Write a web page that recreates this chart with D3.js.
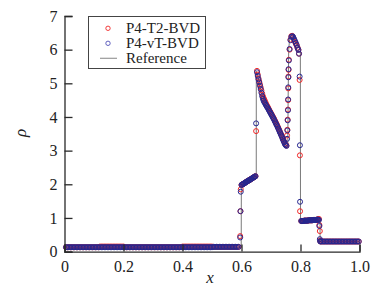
<!DOCTYPE html>
<html><head><meta charset="utf-8">
<script src="https://cdn.jsdelivr.net/npm/d3@7"></script>
<style>
html,body{margin:0;padding:0;background:#fff;}
svg{display:block;}
svg text{font-family:"Liberation Serif","Times New Roman",serif !important;fill:#222;}
</style></head>
<body>
<svg id="chart" width="384" height="291"></svg>
<script>
// ---- data ----
const xTicks = [0, 0.2, 0.4, 0.6, 0.8, 1.0];
const xTickLabels = ["0", "0.2", "0.4", "0.6", "0.8", "1.0"];
const yTicks = [0, 1, 2, 3, 4, 5, 6, 7];
const seriesNames = ["P4-T2-BVD", "P4-vT-BVD", "Reference"];

// reference solution
const refX =   [0, 0.599, 0.5995, 0.650, 0.6502, 0.655, 0.6675, 0.675, 0.68, 0.69, 0.70, 0.71, 0.72, 0.73, 0.74, 0.745, 0.75, 0.755, 0.757, 0.758, 0.760, 0.763, 0.768, 0.773, 0.78, 0.79, 0.7995, 0.800, 0.86, 0.866, 0.8665, 1.0];
const refRho = [0.13, 0.13, 1.98, 2.24, 5.36, 5.22, 4.72, 4.48, 4.40, 4.25, 4.09, 3.93, 3.75, 3.55, 3.34, 3.24, 3.16, 3.13, 3.20, 4.50, 6.00, 6.30, 6.42, 6.42, 6.28, 6.10, 6.00, 0.92, 0.96, 0.97, 0.30, 0.30];

// sample locations shared by both numerical solutions
const xs = [
0.005,0.01,0.015,0.02,0.025,0.03,0.035,0.04,0.045,0.05,0.055,0.06,0.065,0.07,0.075,0.08,0.085,0.09,0.095,0.1,
0.105,0.11,0.115,0.12,0.125,0.13,0.135,0.14,0.145,0.15,0.155,0.16,0.165,0.17,0.175,0.18,0.185,0.19,0.195,0.2,
0.205,0.21,0.215,0.22,0.225,0.23,0.235,0.24,0.245,0.25,0.255,0.26,0.265,0.27,0.275,0.28,0.285,0.29,0.295,0.3,
0.305,0.31,0.315,0.32,0.325,0.33,0.335,0.34,0.345,0.35,0.355,0.36,0.365,0.37,0.375,0.38,0.385,0.39,0.395,0.4,
0.405,0.41,0.415,0.42,0.425,0.43,0.435,0.44,0.445,0.45,0.455,0.46,0.465,0.47,0.475,0.48,0.485,0.49,0.495,0.5,
0.505,0.51,0.515,0.52,0.525,0.53,0.535,0.54,0.545,0.55,0.555,0.56,0.565,0.57,0.575,0.58,0.585,0.59,
0.5955,0.5965,0.5975,
0.6,0.6025,0.605,0.6075,0.61,0.6125,0.615,0.6175,0.62,0.6225,0.625,0.6275,0.63,0.6325,0.635,0.6375,0.64,0.6425,0.645,0.6475,
0.6495,
0.6525,0.655,0.6575,0.66,0.6625,0.665,0.6675,0.67,0.6725,0.675,0.6775,0.68,0.6825,0.685,0.6875,0.69,0.6925,0.695,0.6975,0.7,
0.7025,0.705,0.7075,0.71,0.7125,0.715,0.7175,0.72,0.7225,0.725,0.7275,0.73,0.7325,0.735,0.7375,0.74,0.7425,0.745,0.7475,0.75,0.7525,
0.7545,0.7555,0.7565,0.7575,0.758,0.7585,0.759,0.7595,0.7605,0.763,0.766,0.769,0.772,0.775,0.778,0.781,0.784,0.787,0.790,0.793,0.795,0.797,0.798,0.7985,
0.8025,0.805,0.8075,0.81,0.8125,0.815,0.8175,0.82,0.8225,0.825,0.8275,0.83,0.8325,0.835,0.8375,0.84,0.8425,0.845,0.8475,0.85,0.8525,0.855,0.8575,0.86,0.8625,
0.864,0.8655,0.867,
0.8675,0.8725,0.8775,0.8825,0.8875,0.8925,0.8975,0.9025,0.9075,0.9125,0.9175,0.9225,0.9275,0.9325,0.9375,0.9425,0.9475,0.9525,0.9575,0.9625,0.9675,0.9725,0.9775,0.9825,0.9875,0.9925,0.9975
];

const rhoT2 = [
0.13,0.13,0.13,0.13,0.13,0.13,0.13,0.13,0.13,0.13,0.13,0.13,0.13,0.13,0.13,0.13,0.13,0.13,0.13,0.13,
0.13,0.13,0.13,0.15,0.15,0.15,0.15,0.15,0.15,0.15,0.15,0.15,0.15,0.15,0.15,0.15,0.15,0.15,0.15,0.15,
0.13,0.13,0.13,0.13,0.13,0.13,0.13,0.13,0.13,0.13,0.13,0.13,0.13,0.13,0.13,0.13,0.13,0.13,0.13,0.13,
0.13,0.13,0.13,0.13,0.13,0.13,0.13,0.13,0.13,0.13,0.13,0.13,0.13,0.13,0.13,0.13,0.13,0.13,0.13,0.15,
0.15,0.15,0.15,0.15,0.15,0.15,0.15,0.15,0.15,0.15,0.15,0.15,0.15,0.15,0.15,0.15,0.15,0.15,0.15,0.15,
0.14,0.14,0.14,0.14,0.14,0.14,0.14,0.14,0.14,0.14,0.14,0.14,0.14,0.14,0.14,0.14,0.14,0.14,
0.46,1.20,1.85,
1.98,1.99,2.01,2.02,2.03,2.05,2.06,2.08,2.09,2.10,2.12,2.13,2.14,2.16,2.17,2.19,2.20,2.21,2.23,2.24,
3.58,
5.37,5.26,5.15,5.06,4.97,4.88,4.79,4.70,4.62,4.56,4.51,4.46,4.41,4.36,4.32,4.28,4.23,4.19,4.15,4.11,
4.07,4.03,3.99,3.95,3.90,3.86,3.81,3.77,3.72,3.67,3.62,3.57,3.52,3.47,3.42,3.36,3.31,3.26,3.21,3.17,3.15,
3.45,3.62,3.92,4.22,4.50,4.85,5.20,5.40,5.70,6.00,6.30,6.40,6.41,6.36,6.30,6.24,6.18,6.12,6.06,6.00,5.88,5.10,2.86,1.20,
0.91,0.91,0.91,0.91,0.92,0.92,0.92,0.92,0.92,0.92,0.93,0.93,0.93,0.93,0.93,0.93,0.94,0.94,0.94,0.94,0.94,0.95,0.95,0.96,0.97,
0.79,0.61,0.33,
0.30,0.30,0.30,0.30,0.30,0.30,0.30,0.30,0.30,0.30,0.30,0.30,0.30,0.30,0.30,0.30,0.30,0.30,0.30,0.30,0.30,0.30,0.30,0.30,0.30,0.30,0.30
];

const rhoVT = [
0.13,0.13,0.13,0.13,0.13,0.13,0.13,0.13,0.13,0.13,0.13,0.13,0.13,0.13,0.13,0.13,0.13,0.13,0.13,0.13,
0.13,0.13,0.13,0.13,0.13,0.13,0.13,0.13,0.13,0.13,0.13,0.13,0.13,0.13,0.13,0.13,0.13,0.13,0.13,0.13,
0.13,0.13,0.13,0.13,0.13,0.13,0.13,0.13,0.13,0.13,0.13,0.13,0.13,0.13,0.13,0.13,0.13,0.13,0.13,0.13,
0.13,0.13,0.13,0.13,0.13,0.13,0.13,0.13,0.13,0.13,0.13,0.13,0.13,0.13,0.13,0.13,0.13,0.13,0.13,0.13,
0.13,0.13,0.13,0.13,0.13,0.13,0.13,0.13,0.13,0.13,0.13,0.13,0.13,0.13,0.13,0.13,0.13,0.13,0.13,0.13,
0.14,0.14,0.14,0.14,0.14,0.14,0.14,0.14,0.14,0.14,0.14,0.14,0.14,0.14,0.14,0.14,0.14,0.14,
0.42,1.20,1.78,
1.98,1.99,2.01,2.02,2.03,2.05,2.06,2.08,2.09,2.10,2.12,2.13,2.14,2.16,2.17,2.19,2.20,2.21,2.23,2.24,
3.81,
5.33,5.22,5.12,5.03,4.93,4.83,4.72,4.62,4.54,4.48,4.44,4.40,4.36,4.32,4.29,4.25,4.21,4.17,4.13,4.09,
4.05,4.01,3.97,3.93,3.88,3.84,3.79,3.75,3.70,3.65,3.60,3.55,3.50,3.45,3.40,3.34,3.29,3.24,3.19,3.16,3.14,
3.35,3.60,3.90,4.20,4.52,4.88,5.18,5.42,5.68,6.02,6.28,6.38,6.40,6.38,6.32,6.26,6.20,6.14,6.05,5.99,5.88,5.20,3.16,1.48,
0.91,0.91,0.91,0.91,0.92,0.92,0.92,0.92,0.92,0.92,0.93,0.93,0.93,0.93,0.93,0.93,0.94,0.94,0.94,0.94,0.94,0.95,0.95,0.95,0.94,
0.76,0.37,0.31,
0.30,0.30,0.30,0.30,0.30,0.30,0.30,0.30,0.30,0.30,0.30,0.30,0.30,0.30,0.30,0.30,0.30,0.30,0.30,0.30,0.30,0.30,0.30,0.30,0.30,0.30,0.30
];

// ---- drawing ----
const svg = d3.select("#chart");
const x = d3.scaleLinear().domain([0, 1]).range([64.5, 359.5]);
const y = d3.scaleLinear().domain([0, 7]).range([251.6, 16]);
const axisColor = "#2a2a2a";
const redC = "#f02828", blueC = "#26268f", refC = "#7a7a7a";
const r = 2.5;
const serif = '"Liberation Serif", "Times New Roman", serif';

// reference line (under markers)
const refData = refX.map((v, i) => [v, refRho[i]]);
svg.append("path").datum(refData)
  .attr("fill", "none").attr("stroke", refC).attr("stroke-width", 1)
  .attr("d", d3.line().x(d => x(d[0])).y(d => y(d[1])));

function drawMarkers(vals, color) {
  const n = Math.min(xs.length, vals.length);
  const pts = d3.range(n).map(i => [xs[i], vals[i]]);
  svg.append("g").selectAll("circle").data(pts).join("circle")
    .attr("cx", d => x(d[0])).attr("cy", d => y(d[1])).attr("r", r)
    .attr("fill", "none").attr("stroke", color).attr("stroke-width", 1);
}
drawMarkers(rhoT2, redC);
drawMarkers(rhoVT, blueC);

// axes
const xAxis = d3.axisBottom(x).tickValues(xTicks).tickSize(-7).tickPadding(9)
  .tickFormat((d, i) => xTickLabels[i]);
const gx = svg.append("g").attr("transform", `translate(0,${y(0)})`).call(xAxis);
const yAxis = d3.axisLeft(y).tickValues(yTicks).tickSize(-8).tickPadding(7).tickFormat(d3.format("d"));
const gy = svg.append("g").attr("transform", `translate(${x(0)},0)`).call(yAxis);
[gx, gy].forEach(g => {
  g.attr("font-family", null).style("font-family", serif);
  g.select(".domain").attr("stroke", axisColor).attr("stroke-width", 1.3);
  g.selectAll(".tick line").attr("stroke", axisColor).attr("stroke-width", 1.3);
  g.selectAll(".tick text").style("font-family", serif)
    .attr("font-size", 16).attr("fill", "#222");
});
gy.selectAll(".tick text").attr("dy", "0.33em");

// axis titles
svg.append("text").attr("x", 210).attr("y", 283).attr("text-anchor", "middle")
  .style("font-family", serif).attr("font-style", "italic").attr("font-size", 17).text("x");
svg.append("text").attr("transform", "translate(26,133) rotate(-90)")
  .style("font-family", serif).attr("text-anchor", "middle").attr("font-style", "italic").attr("font-size", 17).text("ρ");

// legend
const lg = svg.append("g");
lg.append("rect").attr("x", 88.5).attr("y", 16.5).attr("width", 117).attr("height", 52)
  .attr("fill", "#fff").attr("stroke", "#444").attr("stroke-width", 1);
const rows = [28.3, 43.3, 58.3];
lg.append("circle").attr("cx", 108).attr("cy", rows[0]).attr("r", 2.2)
  .attr("fill", "none").attr("stroke", redC).attr("stroke-width", 0.9);
lg.append("circle").attr("cx", 108).attr("cy", rows[1]).attr("r", 2.2)
  .attr("fill", "none").attr("stroke", "#5050b8").attr("stroke-width", 0.9);
lg.append("line").attr("x1", 100).attr("x2", 117).attr("y1", rows[2]).attr("y2", rows[2])
  .attr("stroke", "#999").attr("stroke-width", 1.2);
seriesNames.forEach((s, i) => {
  lg.append("text").attr("x", 126).attr("y", rows[i] + 5).style("font-family", serif)
    .attr("font-size", 15).text(s);
});
</script>
</body></html>
